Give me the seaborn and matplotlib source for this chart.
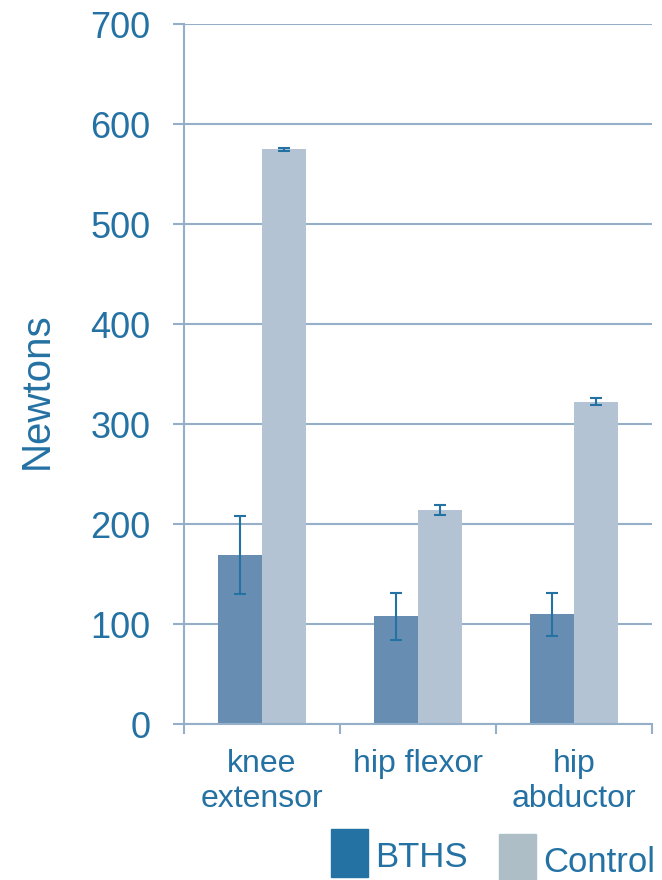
import seaborn as sns
import pandas as pd
import matplotlib.pyplot as plt
from matplotlib.patches import Rectangle

# values
muscles = ['knee\nextensor', 'hip flexor', 'hip\nabductor']
groups = ['BTHS', 'Control']
bths_force = [169, 108, 110]
bths_err = [39, 23.5, 21.5]
control_force = [575, 214, 322.5]
control_err = [1.5, 5, 3.5]
y_ticks = [0, 100, 200, 300, 400, 500, 600, 700]

TEXT = '#2471A3'
GRID = '#96AFC8'
BAR_COLORS = {'BTHS': '#678EB2', 'Control': '#B4C3D4'}
LEGEND_COLORS = {'BTHS': '#2372A3', 'Control': '#ADBEC6'}

df = pd.DataFrame({
    'muscle': muscles * 2,
    'group': ['BTHS'] * 3 + ['Control'] * 3,
    'force': bths_force + control_force,
    'err': bths_err + control_err,
})

sns.set_style('white')
plt.rcParams['font.family'] = ['Liberation Sans', 'DejaVu Sans']

fig = plt.figure(figsize=(6.62, 8.8), dpi=100)
ax = fig.add_axes([184 / 662, 1 - 724 / 880, (652 - 184) / 662, 700 / 880])

sns.barplot(data=df, x='muscle', y='force', hue='group', order=muscles,
            hue_order=groups, palette=BAR_COLORS, width=0.564, gap=0,
            saturation=1, legend=False, ax=ax, zorder=2,
            edgecolor='none', linewidth=0)

# error bars at the centres of the drawn bars
bars = sorted(ax.patches, key=lambda p: p.get_x())
centres = [b.get_x() + b.get_width() / 2 for b in bars]
heights, errs = [], []
for i in range(len(muscles)):
    heights += [bths_force[i], control_force[i]]
    errs += [bths_err[i], control_err[i]]
ax.errorbar(centres, heights, yerr=errs, fmt='none', ecolor=TEXT,
            elinewidth=1.5, capsize=4.3, capthick=1.5, zorder=3)

ax.set_xlim(-0.5, 2.5)
ax.set_ylim(0, 700)
ax.set_yticks(y_ticks)
ax.yaxis.grid(True, color=GRID, linewidth=1.5)
ax.set_axisbelow(True)

for side in ['top', 'right']:
    ax.spines[side].set_visible(False)
for side in ['left', 'bottom']:
    ax.spines[side].set_color(GRID)
    ax.spines[side].set_linewidth(1.5)

ax.tick_params(axis='y', direction='out', length=8, width=1.5, color=GRID,
               labelsize=26, labelcolor=TEXT, pad=16, left=True)
ax.set_xticks(range(len(muscles)))
ax.set_xticklabels(muscles)
ax.tick_params(axis='x', which='major', length=0, labelsize=23,
               labelcolor=TEXT, pad=18)
ax.set_xticks([-0.5, 0.5, 1.5, 2.5], minor=True)
ax.tick_params(axis='x', which='minor', direction='out', length=7.5,
               width=1.5, color=GRID, bottom=True)
for lbl in ax.get_xticklabels():
    lbl.set_linespacing(1.2)

ax.set_xlabel('')
ax.set_ylabel('')
fig.text(37 / 662, 1 - 391 / 880, 'Newtons', rotation=90, ha='center',
         va='center', fontsize=29, color=TEXT)

# legend drawn as loose swatches, as in the original
fig.add_artist(Rectangle((331 / 662, 1 - 877 / 880), 37 / 662, 48 / 880,
                         transform=fig.transFigure,
                         color=LEGEND_COLORS['BTHS']))
fig.text(375 / 662, 1 - 867 / 880, 'BTHS', ha='left', va='baseline',
         fontsize=25, color=TEXT)
fig.add_artist(Rectangle((499 / 662, 0), 37 / 662, 46 / 880,
                         transform=fig.transFigure,
                         color=LEGEND_COLORS['Control']))
fig.text(543 / 662, 1 - 872 / 880, 'Control', ha='left', va='baseline',
         fontsize=25, color=TEXT)

fig.savefig('out.png', dpi=100)
